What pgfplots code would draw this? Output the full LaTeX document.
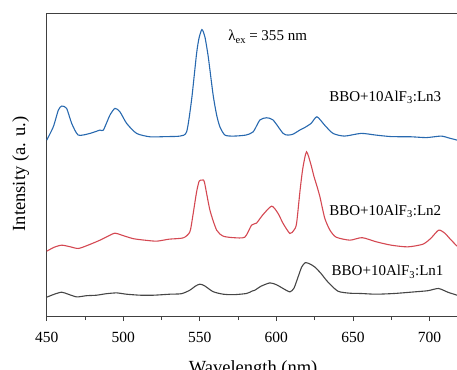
\documentclass[border=0pt]{standalone}
\usepackage{pgfplots}
\pgfplotsset{compat=1.18}
\usepackage{fontspec}
\setmainfont{Liberation Serif}
\definecolor{cblue}{RGB}{40,105,175}
\definecolor{cred}{RGB}{212,72,82}
\definecolor{cblack}{RGB}{70,70,70}
\begin{document}
\begin{tikzpicture}
\useasboundingbox (-46.7pt,-53pt) rectangle (410pt,316pt);
\begin{axis}[
  at={(0,0)}, anchor=south west,
  scale only axis, width=410pt, height=303pt,
  xmin=450, xmax=718, ymin=0, ymax=303,
  axis x line*=box, axis y line*=left,
  xtick={450,500,550,600,650,700},
  minor x tick num=1,
  xtick pos=bottom, tick align=outside,
  major tick length=5pt, minor tick length=4pt,
  ytick=\empty,
  axis line style={line width=0.9pt, black!75},
  every tick/.style={line width=0.8pt, black!75},
  /pgf/number format/assume math mode=true,
  tick label style={font=\fontsize{15.5}{18}\selectfont},
  xticklabel style={yshift=-7pt},
  label style={font=\fontsize{18.5}{22}\selectfont},
  xlabel={Wavelength (nm)},
  ylabel={Intensity (a. u.)},
  xlabel style={at={(axis description cs:0.503,0)}, anchor=north, yshift=-44pt, inner sep=0pt},
  ylabel style={at={(axis description cs:-0.0634,0.469)}, anchor=center, inner sep=0pt},
  clip=false,
]
\addplot[cblack, line width=1.1pt, smooth, tension=0.4] coordinates {
(450,19) (455,22) (459.8,24) (464,22) (469.6,19.3) (476,20.5) (482.6,21) (489,22.5) (495.7,23.3) (502,22) (511,21) (520,21) (530.5,22) (538,22.5) (543.5,26) (547,30) (550,32) (553,30.5) (558.7,24.5) (565.3,22) (572,21.5) (580.5,22.7) (584,25) (586,26) (590,30) (595.8,33.3) (600,31.5) (604.4,27.7) (608.8,24.3) (611.5,28) (614.2,39.3) (616.5,49) (618.8,53.5) (621.5,52.5) (625,49.3) (629,43) (633.6,34.3) (640.2,25) (648,23) (655.4,22.7) (665,22) (677,22.7) (690,24.3) (699,25.5) (705.9,27.7) (712,24) (718,21)
};
\addplot[cred, line width=1.1pt, smooth, tension=0.4] coordinates {
(450,65) (455,69) (459.8,71) (465,69.5) (470.6,67.7) (477,71) (484.8,76) (490,80) (494.6,83) (499,81) (506.5,77.5) (514,76) (521.8,75) (530,77) (539.2,78.3) (543.5,84.3) (545.5,101) (547.9,124.3) (549.6,135) (551.5,136) (553,134) (556.6,106) (561,86) (565.3,80) (572,78.5) (579.4,79) (583.8,91) (587,93) (591,101) (596.9,110) (601,103) (604.4,92.7) (608.8,82.7) (611.5,86) (613.2,92.7) (615.5,126) (617.3,148) (619.7,164.3) (622.5,152) (624.5,140) (626.5,130) (628.5,119) (631.6,98) (635,86) (639,79) (648,76) (656,78.5) (665.4,74.3) (675,71) (685.8,69.3) (695.8,72) (701,78) (706,86) (710,83) (713.2,77.7) (718,70)
};
\addplot[cblue, line width=1.1pt, smooth, tension=0.4] coordinates {
(450,176) (454.3,189.3) (457.6,206) (459.8,210) (463,207.7) (466.3,192.7) (470.6,181) (478.3,182.7) (484.8,186) (487,186) (491.3,201) (494.6,207.7) (497.8,204.3) (502.2,192.7) (508.7,182.7) (517.4,179.3) (528,179.5) (537,180) (541.4,184.3) (544.6,216) (547.9,262.7) (549.5,278) (551.4,286.5) (553.3,279.3) (555.5,259.3) (558.7,221) (561,201) (563.1,189.3) (566.4,181) (572,180) (580,181) (584.9,184.3) (589.2,196) (593.6,198.3) (597.9,196) (604.4,182.7) (607.7,181) (611,182) (615.3,186) (618.5,188.5) (622.7,192.7) (626.5,199.3) (631.5,191) (637,182.7) (644.5,180) (655.4,182.7) (665,181) (675,179.5) (688,179.3) (698,178.5) (707.6,180) (713,178) (718,176)
};
\node[anchor=base west, inner sep=0pt, font=\fontsize{15}{18}\selectfont] at (axis cs:634.5,214.3) {BBO+10AlF\textsubscript{3}:Ln3};
\node[anchor=base west, inner sep=0pt, font=\fontsize{15}{18}\selectfont] at (axis cs:634.5,101) {BBO+10AlF\textsubscript{3}:Ln2};
\node[anchor=base west, inner sep=0pt, font=\fontsize{15}{18}\selectfont] at (axis cs:636,40.3) {BBO+10AlF\textsubscript{3}:Ln1};
\node[anchor=base west, inner sep=0pt, font=\fontsize{15}{18}\selectfont] at (axis cs:568.5,276) {λ\raisebox{-0.55ex}{\fontsize{10.5}{10}\selectfont ex} = 355 nm};
\end{axis}
\end{tikzpicture}
\end{document}
